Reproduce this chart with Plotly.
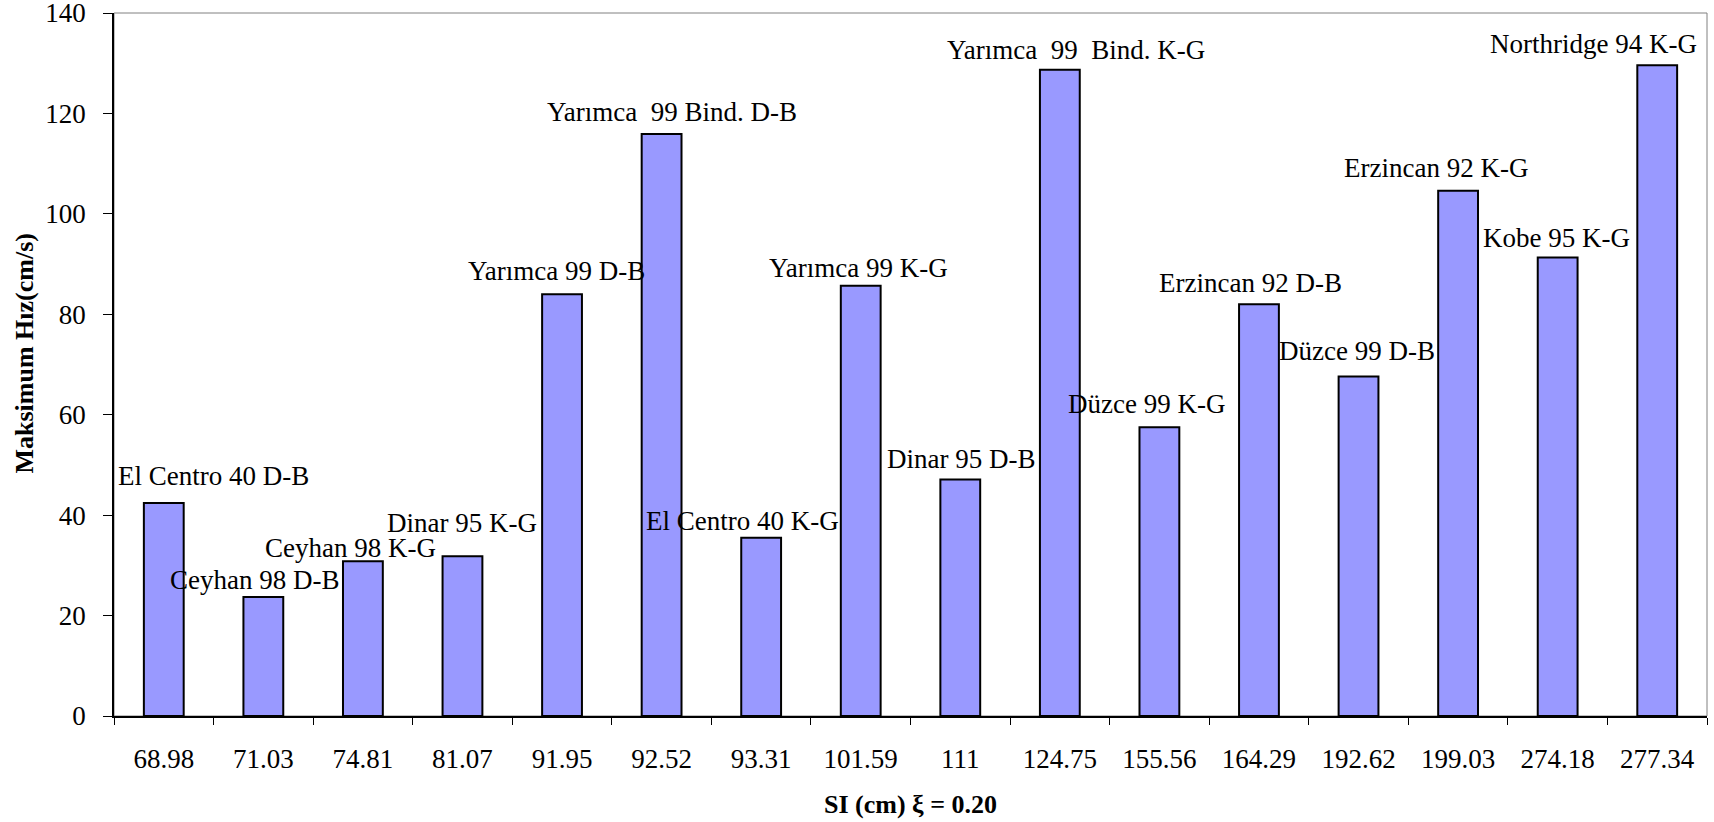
import plotly.graph_objects as go

# ---- data ----
si_values = ["68.98", "71.03", "74.81", "81.07", "91.95", "92.52", "93.31", "101.59",
             "111", "124.75", "155.56", "164.29", "192.62", "199.03", "274.18", "277.34"]
max_velocity = [42.4, 23.7, 30.8, 31.8, 84.0, 115.9, 35.5, 85.7,
                47.1, 128.7, 57.5, 82.0, 67.6, 104.6, 91.3, 129.6]
record_labels = ["El Centro 40 D-B", "Ceyhan 98 D-B", "Ceyhan 98 K-G", "Dinar 95 K-G",
                 "Yarımca 99 D-B", "Yarımca\u00a0\u00a099 Bind. D-B", "El Centro 40 K-G",
                 "Yarımca 99 K-G", "Dinar 95 D-B", "Yarımca\u00a0\u00a099\u00a0\u00a0Bind. K-G",
                 "Düzce 99 K-G", "Erzincan 92 D-B", "Düzce 99 D-B", "Erzincan 92 K-G",
                 "Kobe 95 K-G", "Northridge 94 K-G"]
y_ticks = [0, 20, 40, 60, 80, 100, 120, 140]
x_title = "SI (cm) ξ = 0.20"
y_title = "Maksimum Hız(cm/s)"

# ---- label placement (pixel offsets relative to bar top centre) ----
label_dx = [50, -9, -12, 0, -6, 10, -19, -2, 1, 16, -13, -8, -2, -22, -1, -64]
label_dy = [27, 17, 13, 33, 23, 22, 17, 18, 20, 20, 23, 21, 26, 23, 20, 21]

FONT = "Liberation Serif, Times New Roman, serif"
FS = 27

fig = go.Figure()
fig.add_trace(go.Bar(
    x=si_values, y=max_velocity,
    marker=dict(color="#9999FF", line=dict(color="black", width=2)),
    hoverinfo="x+y",
))

# annotations use the category serial index so numeric-looking names are not
# misread as positions on the category axis
for idx, (yv, txt, dx, dy) in enumerate(zip(max_velocity, record_labels, label_dx, label_dy)):
    fig.add_annotation(
        x=idx, y=yv, text=txt, showarrow=False,
        xanchor="center", yanchor="middle",
        xshift=dx, yshift=dy,
        font=dict(family=FONT, size=FS, color="black"),
    )

# y-axis title (placed as rotated text, slightly above centre as in the original)
fig.add_annotation(
    xref="paper", yref="paper", x=0, y=0.5, xshift=-90, yshift=11,
    text="<b>" + y_title + "</b>", textangle=-90, showarrow=False,
    xanchor="center", yanchor="middle",
    font=dict(family=FONT, size=26, color="black"),
)

# grey frame on top/right
fig.add_shape(type="rect", xref="paper", yref="paper", x0=0, x1=1, y0=0, y1=1,
              line=dict(color="#808080", width=1), layer="below")

fig.update_layout(
    width=1714, height=822,
    margin=dict(l=114, r=7, t=13, b=106, autoexpand=False),
    paper_bgcolor="white", plot_bgcolor="white",
    bargap=0.6,
    showlegend=False,
    font=dict(family=FONT, size=FS, color="black"),
    xaxis=dict(
        type="category", automargin=False,
        categoryorder="array", categoryarray=si_values,
        range=[-0.5, len(si_values) - 0.5],
        showline=True, linecolor="black", linewidth=1.5,
        ticks="outside", ticklen=7, tickcolor="black", tickwidth=1,
        tickson="boundaries",
        tickangle=0,
        showgrid=False, zeroline=False,
        ticklabelstandoff=18,
        tickfont=dict(family=FONT, size=FS, color="black"),
        title=dict(text="<b>" + x_title + "</b>", standoff=22,
                   font=dict(family=FONT, size=26, color="black")),
    ),
    yaxis=dict(
        automargin=False,
        range=[0, 140], tickvals=y_ticks, ticktext=[str(v) for v in y_ticks],
        ticklabeloverflow="allow",
        showline=True, linecolor="black", linewidth=1.5,
        ticks="outside", ticklen=9, tickcolor="black", tickwidth=1,
        showgrid=False, zeroline=False,
        ticklabelstandoff=12,
        tickfont=dict(family=FONT, size=FS, color="black"),
    ),
)

fig.write_html("out.html", config={"displayModeBar": False},
               post_script="document.body.style.margin='0';")
